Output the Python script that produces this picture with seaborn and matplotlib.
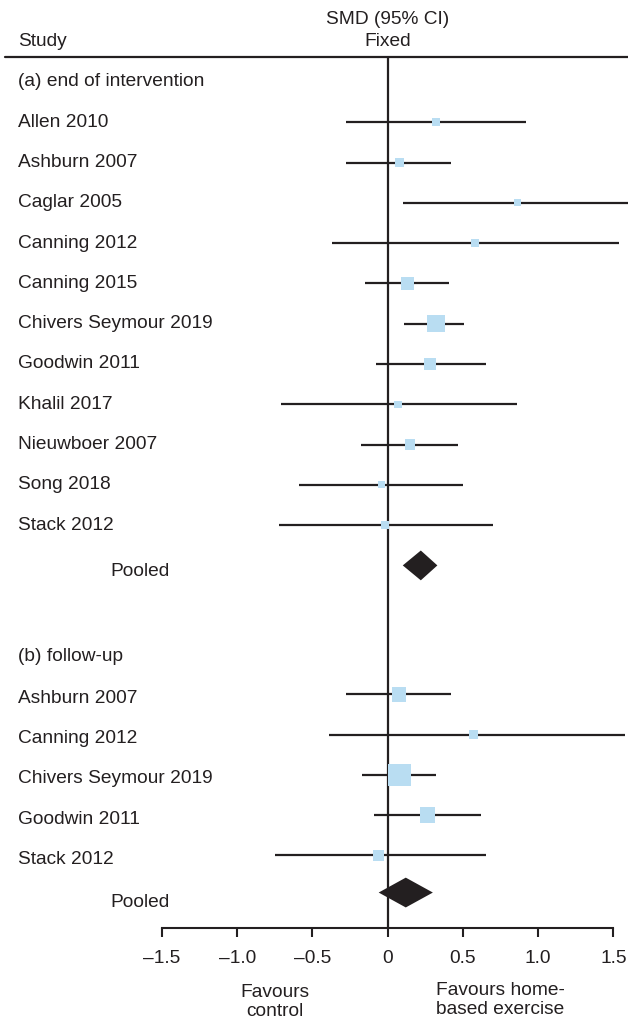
import numpy as np
import pandas as pd
import seaborn as sns
from matplotlib import pyplot as plt
from matplotlib.lines import Line2D
from matplotlib.transforms import blended_transform_factory

# Forest plot - SMD (95% CI), fixed effect

# (a) end of intervention
study_a = ["Allen 2010", "Ashburn 2007", "Caglar 2005", "Canning 2012", "Canning 2015",
           "Chivers Seymour 2019", "Goodwin 2011", "Khalil 2017", "Nieuwboer 2007",
           "Song 2018", "Stack 2012"]
smd_a = [0.32, 0.08, 0.86, 0.58, 0.13, 0.32, 0.28, 0.07, 0.15, -0.04, -0.02]
lo_a = [-0.28, -0.28, 0.10, -0.37, -0.15, 0.11, -0.08, -0.71, -0.18, -0.59, -0.72]
hi_a = [0.92, 0.42, 1.62, 1.54, 0.41, 0.51, 0.65, 0.86, 0.47, 0.50, 0.70]
weight_a = [5.9, 7.5, 4.5, 5.9, 14.4, 26.6, 11.1, 4.9, 9.2, 4.1, 5.9]
pooled_a = [0.22, 0.10, 0.33]  # est, lo, hi

# (b) follow-up
study_b = ["Ashburn 2007", "Canning 2012", "Chivers Seymour 2019", "Goodwin 2011", "Stack 2012"]
smd_b = [0.075, 0.57, 0.078, 0.265, -0.06]
lo_b = [-0.28, -0.39, -0.17, -0.09, -0.75]
hi_b = [0.42, 1.58, 0.32, 0.62, 0.65]
weight_b = [18.4, 6.6, 43.3, 20.9, 10.8]
pooled_b = [0.12, -0.06, 0.30]

xticks = [-1.5, -1.0, -0.5, 0, 0.5, 1.0, 1.5]
xtick_labels = ["\u20131.5", "\u20131.0", "\u20130.5", "0", "0.5", "1.0", "1.5"]

DARK = "#231f20"
BLUE = "#b9ddf2"
W, H = 628, 1023
FS = 13.8

sns.set_style("white")
plt.rcParams["font.family"] = ["Liberation Sans", "DejaVu Sans"]
plt.rcParams["font.size"] = FS
plt.rcParams["text.color"] = DARK

# row layout
rows_a = np.arange(1, len(study_a) + 1)
pool_row_a = len(study_a) + 1
head_row_b = pool_row_a + 2.25
rows_b = head_row_b + 0.95 + np.arange(len(study_b))
pool_row_b = rows_b[-1] + 0.92

df = pd.DataFrame({
    "study": study_a + study_b,
    "smd": smd_a + smd_b,
    "lo": lo_a + lo_b,
    "hi": hi_a + hi_b,
    "weight": weight_a + weight_b,
    "row": np.concatenate([rows_a, rows_b]),
})

fig = plt.figure(figsize=(W / 100, H / 100), dpi=100)
ax = fig.add_axes([162 / W, 1 - 928 / H, 1 - 162 / W, (928 - 57) / H])

ax.axvline(0, color=DARK, lw=1.6, zorder=1)
ax.hlines(df["row"], df["lo"], df["hi"], color=DARK, lw=1.6, zorder=2)
sns.scatterplot(data=df, x="smd", y="row", size="weight", sizes=(0, 600), size_norm=(0, 100),
                marker="s", color=BLUE, linewidth=0, legend=False, ax=ax, zorder=3)

# pooled diamonds
for (est, lo, hi), r in [(pooled_a, pool_row_a), (pooled_b, pool_row_b)]:
    hh = 0.37
    ax.fill([lo, est, hi, est], [r, r - hh, r, r + hh], color=DARK, lw=0, zorder=4)

ax.set_xlim(-1.5, (W - 388) / 150.3)
ax.set_ylim(21.0, -0.62)
ax.set_xlabel("")
ax.set_ylabel("")
ax.set_yticks([])
ax.set_xticks(xticks)
ax.set_xticklabels(xtick_labels, fontsize=FS, color=DARK)
ax.tick_params(axis="x", direction="out", length=6.5, width=1.5, color=DARK, pad=9, bottom=True)
for s in ["top", "right", "left"]:
    ax.spines[s].set_visible(False)
ax.spines["bottom"].set_bounds(-1.5, 1.5)
ax.spines["bottom"].set_linewidth(1.5)
ax.spines["bottom"].set_color(DARK)

# study labels
tr = blended_transform_factory(fig.transFigure, ax.transData)
lx = 18 / W
px = 110 / W
ax.text(lx, 0, "(a) end of intervention", transform=tr, va="center", ha="left")
for name, r in zip(study_a, rows_a):
    ax.text(lx, r, name, transform=tr, va="center", ha="left")
ax.text(px, pool_row_a + 0.15, "Pooled", transform=tr, va="center", ha="left")
ax.text(lx, head_row_b, "(b) follow-up", transform=tr, va="center", ha="left")
for name, r in zip(study_b, rows_b):
    ax.text(lx, r + 0.1, name, transform=tr, va="center", ha="left")
ax.text(px, pool_row_b + 0.25, "Pooled", transform=tr, va="center", ha="left")

# header
fig.text(18 / W, 1 - 42 / H, "Study", va="center", ha="left")
fig.text(388 / W, 1 - 19 / H, "SMD (95% CI)", va="center", ha="center")
fig.text(388 / W, 1 - 42 / H, "Fixed", va="center", ha="center")
fig.add_artist(Line2D([5 / W, 1], [1 - 57 / H, 1 - 57 / H], color=DARK, lw=1.6,
                      transform=fig.transFigure))

# favours
fig.text(275 / W, 1 - 1002 / H, "Favours\ncontrol", va="center", ha="center", linespacing=1.2)
fig.text(500 / W, 1 - 1000 / H, "Favours home-\nbased exercise", va="center", ha="center",
         linespacing=1.2)

fig.savefig("out.png", dpi=100)
